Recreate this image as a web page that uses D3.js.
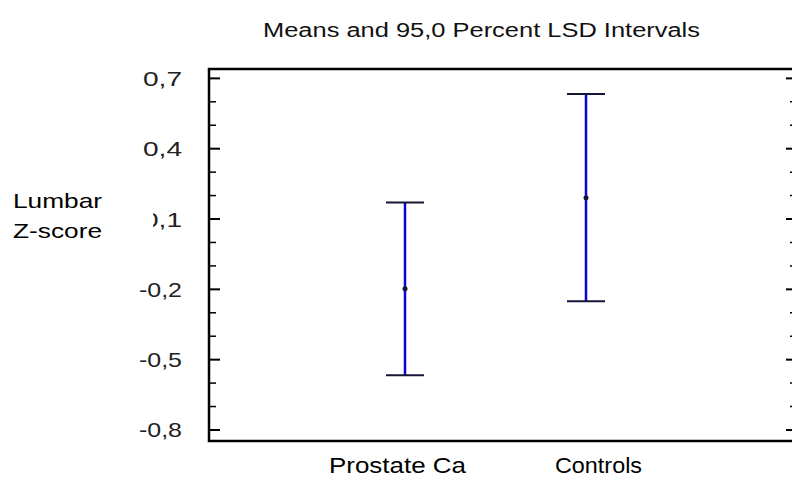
<!DOCTYPE html>
<html>
<head>
<meta charset="utf-8">
<script src="https://cdn.jsdelivr.net/npm/d3@7"></script>
<style>
  body { margin: 0; background: #fff; }
  svg { display: block; }
  text { font-family: "Liberation Sans", Arial, sans-serif; fill: #000; }
</style>
</head>
<body>
<div id="chart"></div>
<script>

// data
var groups    = ["Prostate Ca", "Controls"];
var means     = [-0.198, 0.191];
var lower     = [-0.566, -0.251];
var upper     = [0.170, 0.633];
var majorTicks = [-0.8, -0.5, -0.2, 0.1, 0.4, 0.7];
var tickLabels = ["-0,8", "-0,5", "-0,2", "0,1", "0,4", "0,7"];
var minorTicks = [-0.7, -0.6, -0.4, -0.3, -0.1, 0.0, 0.2, 0.3, 0.5, 0.6];
var title = "Means and 95,0 Percent LSD Intervals";
var yLabel = ["Lumbar", "Z-score"];

var width = 792, height = 483;
var pLeft = 209, pRight = 797, pTop = 69, pBottom = 441;
var groupLabelWidth = [137, 87];

var svg = d3.select("#chart")
  .append("svg")
  .attr("width", width)
  .attr("height", height);

var y = d3.scaleLinear()
  .domain([-0.847, 0.74])
  .range([pBottom, pTop]);

var x = d3.scalePoint()
  .domain(groups)
  .range([405, 586]);

var xLab = d3.scalePoint()
  .domain(groups)
  .range([397.5, 598.5]);

// frame
svg.append("rect")
  .attr("x", pLeft)
  .attr("y", pTop)
  .attr("width", pRight - pLeft)
  .attr("height", pBottom - pTop)
  .attr("fill", "none")
  .attr("stroke", "#000")
  .attr("stroke-width", 2.5);

// ticks, left side pointing in, right side pointing in
var sides = [{x0: pLeft, dir: 1}, {x0: pRight, dir: -1}];
sides.forEach(function(s) {
  svg.selectAll(null)
    .data(majorTicks)
    .enter()
    .append("line")
    .attr("x1", s.x0)
    .attr("x2", s.x0 + s.dir * 11)
    .attr("y1", function(d) { return y(d); })
    .attr("y2", function(d) { return y(d); })
    .attr("stroke", "#000")
    .attr("stroke-width", 2);
  svg.selectAll(null)
    .data(minorTicks)
    .enter()
    .append("line")
    .attr("x1", s.x0)
    .attr("x2", s.x0 + s.dir * 7)
    .attr("y1", function(d) { return y(d); })
    .attr("y2", function(d) { return y(d); })
    .attr("stroke", "#000")
    .attr("stroke-width", 1.5);
});

// tick labels (the original font is wide, so stretch them)
svg.selectAll(".ytick")
  .data(majorTicks)
  .enter()
  .append("text")
  .attr("class", "ytick")
  .attr("x", 182)
  .attr("y", function(d) { return y(d) + 7.5; })
  .attr("text-anchor", "end")
  .style("font-size", "21px")
  .style("fill", "#222")
  .attr("textLength", function(d) { return d < 0 ? 43 : 39; })
  .attr("lengthAdjust", "spacingAndGlyphs")
  .text(function(d, i) { return tickLabels[i]; });

// axis label box sits on top of the "0,1" label like in the original
svg.append("rect")
  .attr("x", 0)
  .attr("y", 186)
  .attr("width", 153)
  .attr("height", 58)
  .attr("fill", "#fff");

svg.selectAll(".ylab")
  .data(yLabel)
  .enter()
  .append("text")
  .attr("class", "ylab")
  .attr("x", 13)
  .attr("y", function(d, i) { return 208 + i * 30; })
  .style("font-size", "21px")
  .attr("textLength", 89)
  .attr("lengthAdjust", "spacingAndGlyphs")
  .text(function(d) { return d; });

// title
svg.append("text")
  .attr("x", 263)
  .attr("y", 37)
  .style("font-size", "20px")
  .style("fill", "#111")
  .attr("textLength", 437)
  .attr("lengthAdjust", "spacingAndGlyphs")
  .text(title);

// error bars
var bars = groups.map(function(g, i) {
  return {g: g, mean: means[i], lo: lower[i], hi: upper[i]};
});

svg.selectAll(".stem")
  .data(bars)
  .enter()
  .append("line")
  .attr("class", "stem")
  .attr("x1", function(d) { return x(d.g); })
  .attr("x2", function(d) { return x(d.g); })
  .attr("y1", function(d) { return y(d.hi); })
  .attr("y2", function(d) { return y(d.lo); })
  .attr("stroke", "#0505d8")
  .attr("stroke-width", 2.5);

["hi", "lo"].forEach(function(k) {
  svg.selectAll(null)
    .data(bars)
    .enter()
    .append("line")
    .attr("x1", function(d) { return x(d.g) - 19; })
    .attr("x2", function(d) { return x(d.g) + 19; })
    .attr("y1", function(d) { return y(d[k]); })
    .attr("y2", function(d) { return y(d[k]); })
    .attr("stroke", "#15153a")
    .attr("stroke-width", 2);
});

svg.selectAll(".mean")
  .data(bars)
  .enter()
  .append("circle")
  .attr("class", "mean")
  .attr("cx", function(d) { return x(d.g); })
  .attr("cy", function(d) { return y(d.mean); })
  .attr("r", 2.5)
  .attr("fill", "#15153a");

// category labels
svg.selectAll(".xlab")
  .data(groups)
  .enter()
  .append("text")
  .attr("class", "xlab")
  .attr("x", function(d) { return xLab(d); })
  .attr("y", 473)
  .attr("text-anchor", "middle")
  .style("font-size", "22px")
  .attr("textLength", function(d, i) { return groupLabelWidth[i]; })
  .attr("lengthAdjust", "spacingAndGlyphs")
  .text(function(d) { return d; });

</script>
</body>
</html>
